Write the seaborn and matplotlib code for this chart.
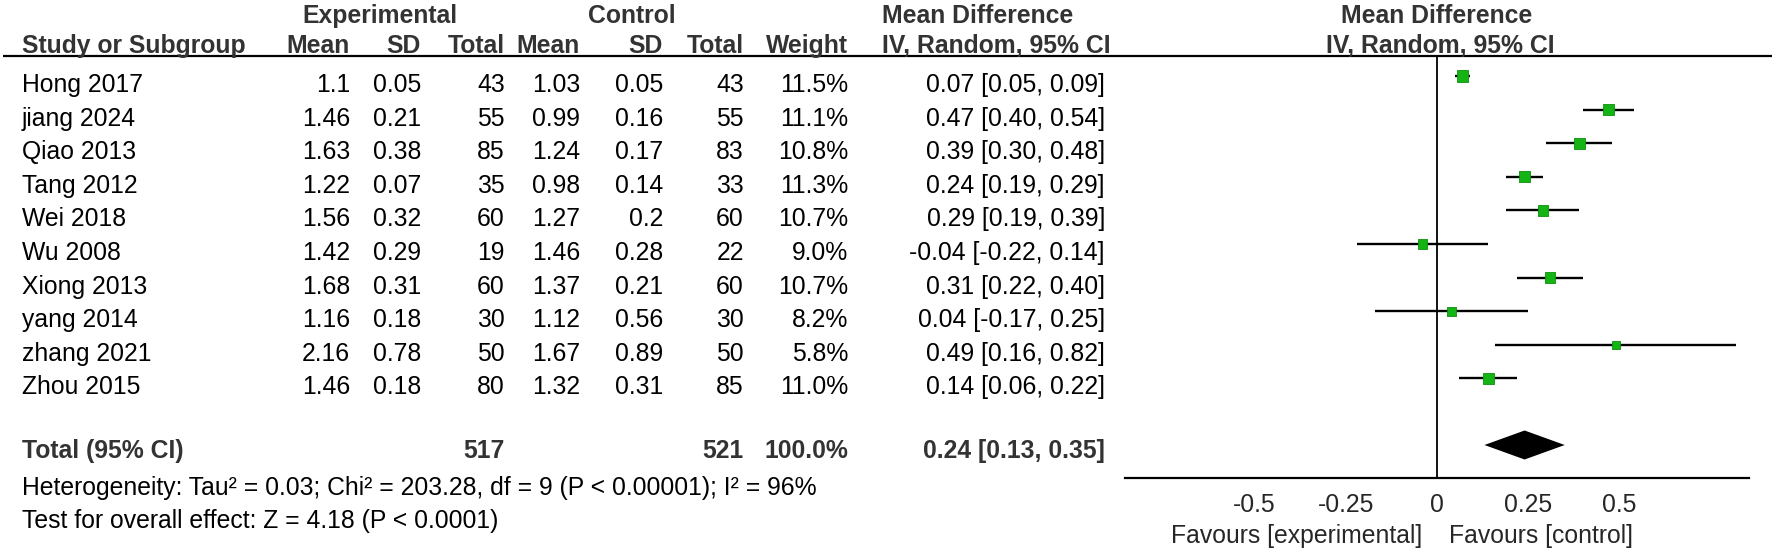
import numpy as np
import pandas as pd
import matplotlib
matplotlib.use("Agg")
import matplotlib.pyplot as plt
import seaborn as sns

# dados do forest plot
studies = ["Hong 2017", "jiang 2024", "Qiao 2013", "Tang 2012", "Wei 2018",
           "Wu 2008", "Xiong 2013", "yang 2014", "zhang 2021", "Zhou 2015"]
exp_mean = [1.1, 1.46, 1.63, 1.22, 1.56, 1.42, 1.68, 1.16, 2.16, 1.46]
exp_sd = [0.05, 0.21, 0.38, 0.07, 0.32, 0.29, 0.31, 0.18, 0.78, 0.18]
exp_n = [43, 55, 85, 35, 60, 19, 60, 30, 50, 80]
ctl_mean = [1.03, 0.99, 1.24, 0.98, 1.27, 1.46, 1.37, 1.12, 1.67, 1.32]
ctl_sd = [0.05, 0.16, 0.17, 0.14, 0.2, 0.28, 0.21, 0.56, 0.89, 0.31]
ctl_n = [43, 55, 83, 33, 60, 22, 60, 30, 50, 85]
weight = [11.5, 11.1, 10.8, 11.3, 10.7, 9.0, 10.7, 8.2, 5.8, 11.0]
md = [0.07, 0.47, 0.39, 0.24, 0.29, -0.04, 0.31, 0.04, 0.49, 0.14]
ci_lo = [0.05, 0.40, 0.30, 0.19, 0.19, -0.22, 0.22, -0.17, 0.16, 0.06]
ci_hi = [0.09, 0.54, 0.48, 0.29, 0.39, 0.14, 0.40, 0.25, 0.82, 0.22]

total_exp, total_ctl, total_weight = 517, 521, 100.0
total_md, total_lo, total_hi = 0.24, 0.13, 0.35
xticks = [-0.5, -0.25, 0, 0.25, 0.5]
xtick_labels = ["-0.5", "-0.25", "0", "0.25", "0.5"]
het_text = "Heterogeneity: Tau² = 0.03; Chi² = 203.28, df = 9 (P < 0.00001); I² = 96%"
effect_text = "Test for overall effect: Z = 4.18 (P < 0.0001)"

df = pd.DataFrame({"study": studies, "md": md, "lo": ci_lo, "hi": ci_hi, "w": weight})
df["row"] = 76 + 33.6 * np.arange(len(df))

sns.set_style("white")
plt.rcParams["font.family"] = ["Liberation Sans", "DejaVu Sans"]
FS = 17.8
BOLD_C = "#333333"
GREEN = "#14b414"

W, H = 1772, 552
fig = plt.figure(figsize=(W / 100, H / 100), dpi=100)

# eixo da tabela em coordenadas de pixel
tab = fig.add_axes([0, 0, 1, 1])
tab.set_xlim(0, W)
tab.set_ylim(H, 0)
tab.axis("off")

# posicoes das colunas (borda direita)
col_right = {"em": 350, "esd": 421, "en": 505, "cm": 580, "csd": 663, "cn": 744, "w": 848, "ci": 1105}
x_name = 22

def txt(x, y, s, ha="right", bold=False):
    tab.text(x, y, s, ha=ha, va="baseline", fontsize=FS,
             fontweight="bold" if bold else "normal",
             color=BOLD_C if bold else "black")

# cabecalho
txt(380, 23, "Experimental", ha="center", bold=True)
txt(632, 23, "Control", ha="center", bold=True)
txt(882, 23, "Mean Difference", ha="left", bold=True)
txt(1437, 23, "Mean Difference", ha="center", bold=True)
txt(x_name, 53, "Study or Subgroup", ha="left", bold=True)
for key, lab in [("em", "Mean"), ("esd", "SD"), ("en", "Total"), ("cm", "Mean"),
                 ("csd", "SD"), ("cn", "Total"), ("w", "Weight")]:
    txt(col_right[key], 53, lab, bold=True)
txt(882, 53, "IV, Random, 95% CI", ha="left", bold=True)
txt(1440, 53, "IV, Random, 95% CI", ha="center", bold=True)
tab.plot([3, W], [56, 56], color="black", lw=1.6, solid_capstyle="butt")

# linhas dos estudos
for i, r in df.iterrows():
    yb = r["row"] + 16
    txt(x_name, yb, r["study"], ha="left")
    txt(col_right["em"], yb, str(exp_mean[i]))
    txt(col_right["esd"], yb, str(exp_sd[i]))
    txt(col_right["en"], yb, str(exp_n[i]))
    txt(col_right["cm"], yb, str(ctl_mean[i]))
    txt(col_right["csd"], yb, str(ctl_sd[i]))
    txt(col_right["cn"], yb, str(ctl_n[i]))
    txt(col_right["w"], yb, f"{weight[i]:.1f}%")
    txt(col_right["ci"], yb, f"{md[i]:.2f} [{ci_lo[i]:.2f}, {ci_hi[i]:.2f}]")

# total
txt(x_name, 458, "Total (95% CI)", ha="left", bold=True)
txt(col_right["en"], 458, str(total_exp), bold=True)
txt(col_right["cn"], 458, str(total_ctl), bold=True)
txt(col_right["w"], 458, f"{total_weight:.1f}%", bold=True)
txt(col_right["ci"], 458, f"{total_md:.2f} [{total_lo:.2f}, {total_hi:.2f}]", bold=True)
txt(x_name, 495, het_text, ha="left")
txt(x_name, 528, effect_text, ha="left")

# eixo do forest plot
xmin, xmax = -0.855, 0.855
zero_px, unit_px = 1437, 365
left = (zero_px + xmin * unit_px) / W
width = (xmax - xmin) * unit_px / W
ax = fig.add_axes([left, 0, width, 1])
ax.patch.set_alpha(0)
ax.set_xlim(xmin, xmax)
ax.set_ylim(H, 0)
axis_y = 478

ax.hlines(df["row"], df["lo"], df["hi"], color="black", lw=1.7)
sns.scatterplot(data=df, x="md", y="row", marker="s", s=df["w"] * 5.5,
                color=GREEN, edgecolor="#0b8f0b", linewidth=0.6, ax=ax, zorder=3)
ax.plot([0, 0], [56, axis_y], color="black", lw=1.3)

ty, th = 445, 14.5
ax.fill([total_lo, total_md, total_hi, total_md], [ty, ty - th, ty, ty + th], color="black", lw=0)

for side in ["top", "left", "right"]:
    ax.spines[side].set_visible(False)
ax.spines["bottom"].set_position(("data", axis_y))
ax.spines["bottom"].set_linewidth(1.6)
ax.spines["bottom"].set_color("black")
ax.set_yticks([])
ax.set_xticks(xticks)
ax.set_xticklabels(xtick_labels, fontsize=FS)
ax.tick_params(axis="x", direction="inout", length=13, width=1.4, pad=4, color="black")
ax.set_xlabel("")
ax.set_ylabel("")

ax.text(-0.04, 543, "Favours [experimental]", ha="right", va="baseline", fontsize=FS)
ax.text(0.033, 543, "Favours [control]", ha="left", va="baseline", fontsize=FS)

fig.savefig("out.png", dpi=100)
